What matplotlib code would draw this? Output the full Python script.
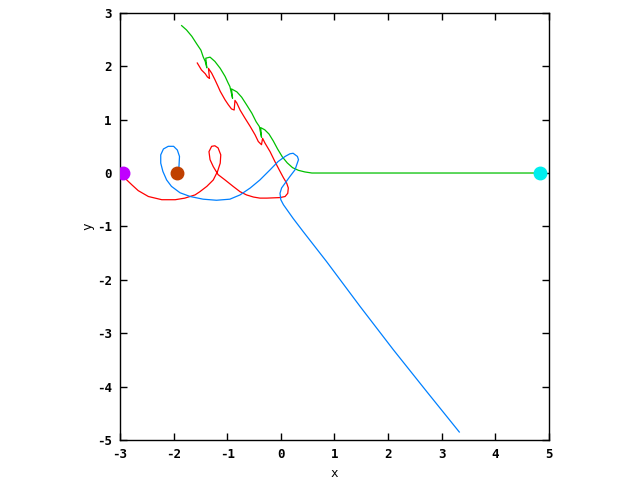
import matplotlib
matplotlib.use("Agg")
import matplotlib.pyplot as plt

# body 1 (red), starts at the magenta dot
red_x = [-2.94, -2.91, -2.78, -2.66, -2.47, -2.22, -1.97, -1.79, -1.60, -1.51,
         -1.38, -1.26, -1.18, -1.13, -1.12, -1.17, -1.23, -1.29, -1.34, -1.32,
         -1.26, -1.17, -1.04, -0.89, -0.76, -0.64, -0.51, -0.39, -0.26, -0.015,
         0.08, 0.13, 0.14, 0.11, 0.05, -0.03, -0.11, -0.20, -0.295, -0.34,
         -0.36, -0.42, -0.48, -0.57, -0.67, -0.76, -0.82, -0.855, -0.87, -0.92,
         -0.98, -1.04, -1.13, -1.17, -1.23, -1.29, -1.35, -1.33, -1.37, -1.41,
         -1.48, -1.558]
red_y = [0.0, -0.095, -0.22, -0.33, -0.44, -0.50, -0.50, -0.47, -0.41, -0.35,
         -0.25, -0.13, 0.03, 0.185, 0.34, 0.47, 0.51, 0.50, 0.40, 0.25,
         0.12, -0.03, -0.13, -0.25, -0.35, -0.41, -0.45, -0.47, -0.47, -0.46,
         -0.44, -0.38, -0.28, -0.19, -0.09, 0.06, 0.215, 0.40, 0.56, 0.65,
         0.53, 0.59, 0.715, 0.87, 1.03, 1.18, 1.31, 1.36, 1.18, 1.20,
         1.28, 1.37, 1.53, 1.62, 1.75, 1.87, 1.96, 1.77, 1.80, 1.86,
         1.93, 2.06]

# body 2 (green), starts at the cyan dot
green_x = [4.83, 0.58, 0.45, 0.33, 0.22, 0.12, 0.03, -0.06, -0.14, -0.22,
           -0.30, -0.375, -0.36, -0.40, -0.46, -0.54, -0.64, -0.73, -0.82, -0.92,
           -0.90, -0.95, -0.98, -1.04, -1.13, -1.23, -1.32, -1.40, -1.38, -1.41,
           -1.45, -1.49, -1.57, -1.66, -1.76, -1.85]
green_y = [0.0, 0.0, 0.02, 0.05, 0.10, 0.19, 0.30, 0.45, 0.60, 0.73,
           0.81, 0.85, 0.67, 0.87, 0.96, 1.12, 1.28, 1.42, 1.52, 1.575,
           1.40, 1.62, 1.68, 1.81, 1.96, 2.09, 2.17, 2.15, 1.97, 2.09,
           2.18, 2.30, 2.42, 2.56, 2.68, 2.76]

# body 3 (blue), starts at the brown dot
blue_x = [-1.92, -1.90, -1.89, -1.93, -2.00, -2.10, -2.19, -2.24, -2.24, -2.20,
          -2.13, -2.04, -1.88, -1.69, -1.45, -1.20, -0.95, -0.76, -0.57, -0.39,
          -0.20, -0.05, 0.08, 0.17, 0.23, 0.31, 0.33, 0.265, 0.17, 0.08,
          0.015, -0.015, 0.0, 0.05, 0.11, 0.23, 0.42, 0.855, 1.48, 2.10,
          2.72, 3.33]
blue_y = [0.03, 0.12, 0.31, 0.43, 0.50, 0.50, 0.45, 0.34, 0.185, 0.03,
          -0.13, -0.25, -0.37, -0.44, -0.49, -0.51, -0.49, -0.41, -0.28, -0.13,
          0.06, 0.215, 0.31, 0.36, 0.37, 0.31, 0.25, 0.06, -0.065, -0.19,
          -0.28, -0.38, -0.50, -0.595, -0.68, -0.85, -1.10, -1.66, -2.50, -3.31,
          -4.09, -4.85]

# starting positions
start_x = [-2.94, 4.83, -1.94]
start_y = [0.0, 0.0, 0.0]
start_colors = ["#c000ff", "#00eeee", "#c04000"]

plt.rcParams["font.family"] = "DejaVu Sans Mono"
plt.rcParams["font.weight"] = "bold"
plt.rcParams["font.size"] = 9
plt.rcParams["axes.unicode_minus"] = False

fig = plt.figure(figsize=(6.4, 4.8), dpi=100)
ax = fig.add_axes([0.1875, 0.0833, 0.670, 0.890])

ax.plot(red_x, red_y, color="#ff0000", lw=0.9)
ax.plot(green_x, green_y, color="#00c000", lw=0.9)
ax.plot(blue_x, blue_y, color="#0080ff", lw=0.9)
for sx, sy, c in zip(start_x, start_y, start_colors):
    ax.plot(sx, sy, "o", color=c, ms=9, mec=c, zorder=5)

ax.set_xlim(-3, 5)
ax.set_ylim(-5, 3)
ax.set_xticks(range(-3, 6))
ax.set_yticks(range(-5, 4))
ax.tick_params(direction="in", top=True, right=True, length=5, width=1, pad=6)
for s in ax.spines.values():
    s.set_linewidth(1)
ax.set_xlabel("x", labelpad=4)
ax.set_ylabel("y", labelpad=2)

fig.savefig("out.png", dpi=100)
